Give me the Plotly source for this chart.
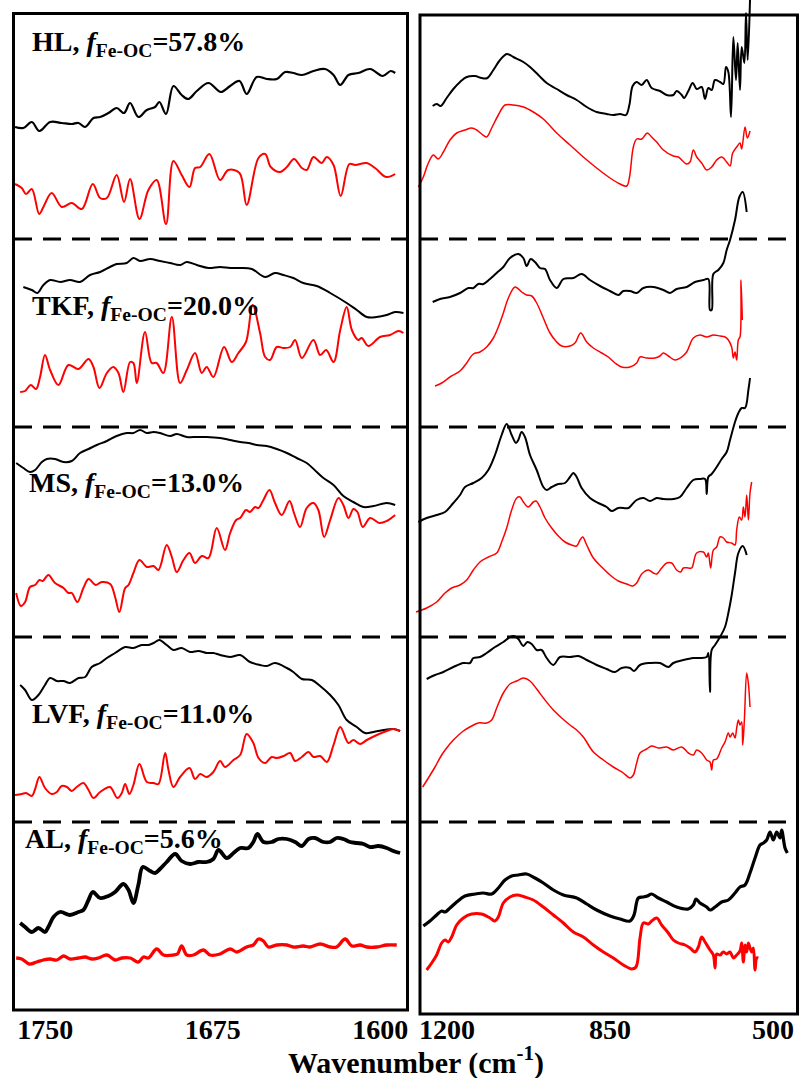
import plotly.graph_objects as go

# ---------------- data: (wavenumber cm-1, offset absorbance a.u.) ----------------
hl_left_black = [(1763.5,951),(1759.8,950),(1756.0,956),(1752.6,947),(1747.8,956),(1742.6,955),(1738.1,954),(1735.1,955),(1732.1,951),(1728.4,960),(1725.4,961),(1721.7,965),(1718.0,970),(1714.7,965),(1712.0,975),(1708.3,961),(1704.5,968),(1700.8,971),(1698.9,976),(1695.9,964),(1692.6,992),(1688.9,983),(1685.9,979),(1682.1,987),(1676.9,995),(1671.4,986),(1667.2,992),(1663.0,997),(1659.8,984),(1655.3,1001),(1650.8,999),(1646.3,999),(1642.6,1006),(1638.9,1005),(1635.1,1003),(1629.9,1007),(1624.7,1009),(1620.9,1003),(1617.9,993),(1614.2,1003),(1609.8,1005),(1604.5,1009),(1598.9,1002),(1595.3,1007),(1593.3,1005)]
hl_left_red = [(1763.5,894),(1760.5,890),(1758.6,884),(1756.0,889),(1752.7,864),(1750.8,871),(1747.1,885),(1742.6,871),(1738.1,875),(1733.6,869),(1728.7,894),(1725.4,880),(1722.4,880),(1718.0,903),(1714.7,876),(1712.0,899),(1707.8,859),(1703.8,888),(1700.1,898),(1695.9,854),(1692.6,917),(1688.9,903),(1685.4,891),(1682.9,910),(1680.6,911),(1676.5,924),(1671.7,898),(1668.0,908),(1663.0,905),(1659.8,873),(1654.5,920),(1651.5,924),(1649.0,911),(1644.8,906),(1641.8,911),(1638.6,919),(1635.1,910),(1632.9,908),(1629.9,921),(1626.2,915),(1623.9,921),(1620.9,913),(1617.7,882),(1613.8,914),(1611.2,913),(1606.0,915),(1602.3,910),(1597.4,901),(1593.3,904)]
hl_right_black = [(1230.8,972),(1222.2,974),(1213.6,972),(1200.8,980),(1186.4,989),(1172.1,996),(1157.8,1001),(1139.9,1002),(1125.6,1000),(1113.4,1000),(1100.5,1008),(1086.2,1018),(1071.9,1024),(1064.8,1023),(1057.6,1021),(1036.1,1016),(1021.8,1011),(1003.9,1003),(986.0,995),(964.5,989),(943.1,983),(921.6,978),(900.1,971),(878.7,966),(857.2,964),(842.9,963),(828.5,964),(815.7,963),(808.5,973),(801.4,992),(792.8,996),(782.0,993),(771.3,998),(760.6,990),(742.7,987),(728.3,983),(714.0,983),(706.9,987),(696.1,983),(691.1,980),(681.8,987),(672.5,995),(663.9,989),(653.2,991),(646.0,979),(638.9,990),(631.7,988),(624.5,998),(613.8,996),(606.6,994),(600.9,1011),(595.9,1006),(590.2,961),(585.2,1041),(579.5,998),(575.9,1035),(570.9,988),(567.3,1031),(561.5,1015),(558.0,1065),(554.4,1018),(549.4,1078)]
hl_right_red = [(1261.6,891),(1250.9,901),(1240.1,915),(1229.4,923),(1218.7,919),(1207.9,926),(1193.6,938),(1179.3,945),(1161.4,948),(1147.1,950),(1136.3,948),(1125.6,944),(1114.9,941),(1104.1,950),(1089.8,963),(1075.5,973),(1057.6,973),(1036.1,971),(1014.7,966),(993.2,959),(964.5,945),(935.9,933),(907.3,921),(878.7,910),(850.0,900),(828.5,894),(814.2,892),(808.5,900),(799.9,931),(792.8,939),(782.0,939),(769.9,945),(760.6,941),(749.8,936),(735.5,928),(714.0,922),(703.3,921),(685.4,914),(678.2,916),(671.1,928),(663.9,921),(653.2,915),(642.4,908),(631.7,911),(621.0,918),(610.2,921),(599.5,916),(592.3,912),(586.6,925),(578.0,931),(570.9,935),(567.3,929),(560.1,951),(555.1,940),(549.4,947)]

tkf_left_black = [(1759.8,791),(1756.0,788),(1753.5,785),(1750.8,793),(1747.8,798),(1743.3,796),(1738.9,798),(1734.4,796),(1729.9,803),(1725.4,806),(1721.0,811),(1718.0,814),(1713.5,815),(1710.5,820),(1707.5,817),(1703.0,819),(1698.6,817),(1694.1,815),(1689.6,813),(1686.6,816),(1682.1,813),(1676.9,810),(1671.7,811),(1667.2,810),(1662.7,810),(1657.5,809),(1651.5,801),(1647.1,805),(1643.3,803),(1638.9,800),(1634.4,795),(1628.4,792),(1622.4,785),(1615.0,775),(1610.5,768),(1606.0,761),(1601.6,761),(1597.1,763),(1593.3,766),(1589.6,765)]
tkf_left_red = [(1761.2,686),(1759.0,687),(1756.5,693),(1754.1,689),(1752.3,701),(1750.1,723),(1747.8,708),(1744.1,693),(1739.6,713),(1735.1,709),(1730.6,719),(1728.4,711),(1725.7,690),(1722.4,705),(1719.5,711),(1717.2,705),(1715.0,686),(1712.0,716),(1710.5,715),(1709.0,695),(1705.3,746),(1702.3,715),(1700.1,715),(1697.1,705),(1693.3,761),(1689.6,695),(1686.6,708),(1682.9,725),(1679.9,705),(1677.7,711),(1674.7,701),(1669.9,731),(1666.5,716),(1663.5,725),(1660.1,736),(1657.1,773),(1653.8,745),(1651.5,721),(1649.3,718),(1646.3,731),(1643.3,730),(1640.3,731),(1638.1,738),(1635.1,720),(1629.9,738),(1626.9,723),(1624.2,728),(1620.9,716),(1617.9,748),(1615.0,771),(1612.7,748),(1609.8,738),(1608.3,740),(1605.3,732),(1600.1,741),(1595.6,743),(1591.8,747),(1589.6,745)]
tkf_right_black = [(1230.8,776),(1215.1,779),(1193.6,781),(1172.1,785),(1154.2,790),(1143.5,790),(1132.8,794),(1122.0,794),(1107.7,799),(1093.4,805),(1079.1,811),(1064.8,820),(1046.9,824),(1036.1,820),(1029.0,812),(1020.4,819),(1011.1,816),(1000.3,810),(989.6,809),(978.9,798),(964.5,790),(950.2,799),(928.8,800),(910.9,804),(893.0,798),(871.5,792),(850.0,787),(832.1,783),(821.4,787),(807.1,787),(792.8,785),(778.4,790),(757.0,791),(735.5,788),(721.2,785),(706.9,789),(685.4,791),(667.5,796),(649.6,798),(638.9,799),(635.3,768),(631.7,768),(628.1,804),(617.4,808),(606.6,815),(599.5,828),(592.3,838),(581.6,858),(572.3,881),(565.1,886),(556.6,866)]
tkf_right_red = [(1225.8,692),(1211.5,695),(1193.6,701),(1172.1,707),(1157.8,715),(1143.5,724),(1129.2,726),(1114.9,731),(1100.5,740),(1089.8,751),(1079.1,765),(1068.3,780),(1054.0,791),(1039.7,786),(1029.0,783),(1018.2,782),(1007.5,775),(993.2,760),(978.9,745),(964.5,736),(953.8,732),(935.9,732),(925.2,735),(913.0,745),(900.1,736),(885.8,730),(867.9,725),(853.6,721),(839.3,715),(825.0,711),(807.1,711),(792.8,715),(785.6,721),(771.3,720),(753.4,720),(742.7,722),(735.5,725),(724.8,722),(710.4,718),(696.1,721),(685.4,726),(671.1,740),(656.8,743),(642.4,741),(628.1,743),(613.8,742),(603.1,741),(595.9,738),(588.8,731),(585.2,720),(581.6,726),(578.0,718),(574.5,738),(570.9,741),(568.7,798),(565.9,758)]

ms_left_black = [(1763.0,615),(1759.8,610),(1756.8,606),(1754.5,608),(1751.5,616),(1749.3,619),(1745.6,619),(1741.8,616),(1738.1,617),(1734.4,625),(1730.6,629),(1726.9,633),(1722.4,637),(1718.0,642),(1713.5,645),(1710.5,645),(1707.5,648),(1704.5,645),(1701.5,646),(1698.6,645),(1694.1,642),(1691.1,644),(1686.6,641),(1682.1,641),(1677.7,641),(1671.7,640),(1667.2,638),(1662.7,636),(1659.0,635),(1655.3,633),(1650.8,632),(1646.3,629),(1641.8,625),(1637.4,620),(1632.9,615),(1628.4,606),(1625.4,600),(1620.9,593),(1616.5,582),(1612.0,576),(1607.5,571),(1603.0,572),(1597.1,575),(1593.3,573)]
ms_left_red = [(1763.0,485),(1760.9,472),(1759.0,476),(1756.8,491),(1754.5,493),(1752.6,498),(1751.1,497),(1748.6,503),(1745.6,495),(1741.8,490),(1739.6,485),(1738.1,485),(1735.6,476),(1732.9,490),(1730.6,499),(1727.4,493),(1724.7,496),(1720.9,494),(1718.7,481),(1716.8,466),(1714.2,490),(1712.7,493),(1710.5,505),(1707.8,518),(1704.5,511),(1701.5,512),(1699.3,508),(1695.6,533),(1693.3,521),(1691.1,506),(1688.1,518),(1685.4,525),(1682.9,515),(1679.9,522),(1676.9,520),(1673.2,550),(1669.5,528),(1667.2,545),(1664.5,558),(1662.7,560),(1660.1,568),(1658.3,566),(1656.0,571),(1654.5,570),(1652.3,578),(1649.6,588),(1647.1,575),(1644.1,563),(1640.6,577),(1638.6,565),(1635.9,551),(1632.9,570),(1629.9,575),(1627.7,568),(1625.1,541),(1622.4,558),(1618.7,580),(1616.5,573),(1614.2,560),(1612.0,569),(1610.2,566),(1607.8,551),(1604.5,560),(1600.3,555),(1597.1,557),(1593.3,563)]
ms_right_black = [(1261.6,556),(1243.7,560),(1222.2,563),(1204.3,566),(1186.4,575),(1172.1,583),(1161.4,591),(1143.5,595),(1125.6,600),(1111.3,608),(1097.0,623),(1082.7,643),(1071.9,654),(1061.2,643),(1051.9,635),(1046.9,638),(1039.7,646),(1032.6,641),(1021.8,623),(1007.5,608),(993.2,591),(986.0,588),(975.3,591),(961.0,594),(946.7,595),(935.9,601),(928.8,605),(921.6,601),(910.9,590),(893.0,580),(875.1,575),(857.2,571),(846.4,567),(832.1,570),(810.6,570),(803.5,573),(792.8,578),(778.4,580),(764.1,577),(749.8,580),(735.5,579),(714.0,579),(699.7,581),(685.4,590),(671.1,598),(656.8,599),(646.0,599),(642.4,584),(638.9,601),(631.7,604),(621.0,611),(610.2,619),(599.5,626),(592.3,638),(581.6,656),(574.4,665),(567.3,670),(560.1,670),(552.9,688),(549.4,700)]
ms_right_red = [(1266.6,466),(1243.7,470),(1222.2,476),(1204.3,485),(1190.0,490),(1172.1,493),(1157.8,498),(1143.5,508),(1129.2,516),(1111.3,521),(1093.4,525),(1082.7,536),(1071.9,550),(1061.2,568),(1050.4,580),(1043.3,581),(1036.1,576),(1025.4,571),(1014.7,576),(1008.9,577),(1000.3,571),(989.6,560),(975.3,550),(961.0,542),(946.7,536),(932.4,533),(921.6,532),(914.4,538),(908.7,541),(900.1,533),(885.8,520),(867.9,511),(850.0,503),(832.1,497),(814.2,494),(801.4,492),(792.8,495),(782.0,504),(767.7,508),(757.0,505),(749.8,504),(739.1,510),(728.3,515),(717.6,515),(706.9,508),(698.3,506),(692.5,510),(681.8,510),(674.7,510),(663.9,525),(649.6,526),(642.4,521),(638.9,525),(633.9,510),(628.1,528),(621.0,531),(613.8,541),(606.6,540),(599.5,536),(588.8,535),(581.6,533),(578.0,548),(572.3,561),(567.3,558),(563.7,571),(560.1,561),(556.5,583),(552.9,558),(549.4,585),(545.8,596)]

lvf_left_black = [(1761.2,393),(1759.0,388),(1756.0,378),(1753.0,383),(1750.1,393),(1747.8,400),(1744.8,397),(1741.8,397),(1738.9,395),(1735.1,400),(1732.1,401),(1729.2,411),(1725.4,415),(1722.4,420),(1718.7,425),(1714.2,431),(1710.5,430),(1706.8,433),(1703.8,433),(1701.5,435),(1698.9,438),(1695.6,433),(1692.6,428),(1688.9,430),(1685.1,426),(1681.4,427),(1677.7,425),(1674.7,425),(1671.7,423),(1667.2,421),(1662.7,423),(1658.3,416),(1653.8,413),(1650.8,412),(1647.1,415),(1641.8,410),(1638.9,406),(1635.1,399),(1630.6,398),(1626.9,392),(1622.4,383),(1618.7,373),(1615.0,358),(1610.5,351),(1606.8,345),(1603.0,346),(1598.6,348),(1594.1,349),(1591.1,347)]
lvf_left_red = [(1763.5,283),(1760.5,284),(1758.6,285),(1756.0,282),(1754.5,289),(1752.6,301),(1750.1,290),(1747.1,284),(1744.8,286),(1742.6,292),(1740.3,291),(1738.1,287),(1735.9,291),(1732.9,295),(1730.6,288),(1728.4,280),(1725.4,286),(1721.0,291),(1717.7,280),(1715.7,285),(1714.2,294),(1712.3,284),(1710.5,293),(1707.8,314),(1704.5,296),(1701.5,295),(1699.3,294),(1696.3,325),(1694.8,308),(1692.6,291),(1689.6,301),(1685.4,310),(1682.9,299),(1680.6,304),(1677.7,301),(1674.7,306),(1671.7,317),(1669.5,311),(1665.7,318),(1662.7,323),(1659.8,344),(1656.8,335),(1654.5,320),(1651.5,315),(1648.6,321),(1646.3,320),(1643.3,322),(1640.3,325),(1638.1,317),(1635.1,321),(1632.1,326),(1629.9,321),(1626.9,322),(1623.9,316),(1620.9,333),(1617.9,351),(1614.2,335),(1612.0,338),(1609.0,334),(1606.0,338),(1601.5,343),(1597.1,347),(1594.1,349),(1591.1,347)]
lvf_right_black = [(1243.7,399),(1225.8,403),(1207.9,406),(1186.4,411),(1165.0,415),(1150.7,415),(1143.5,420),(1129.2,421),(1114.9,425),(1097.0,431),(1079.1,436),(1064.8,441),(1056.2,442),(1046.9,439),(1036.1,432),(1027.5,436),(1018.2,434),(1007.5,428),(996.8,428),(986.0,420),(971.7,413),(957.4,421),(935.9,421),(918.0,422),(900.1,418),(878.7,413),(857.2,409),(839.3,406),(825.0,410),(807.1,410),(798.5,407),(785.6,413),(764.1,415),(742.7,415),(724.8,411),(714.0,415),(692.5,418),(671.1,420),(656.8,420),(642.4,421),(638.9,425),(635.3,386),(631.7,428),(624.5,433),(613.8,441),(603.1,451),(595.9,465),(588.7,483),(581.6,505),(574.4,525),(565.1,532),(556.5,523)]
lvf_right_red = [(1252.3,291),(1240.1,300),(1225.8,311),(1211.5,323),(1200.8,330),(1186.4,338),(1165.0,347),(1147.1,352),(1132.8,355),(1114.9,355),(1104.1,358),(1093.4,370),(1079.1,385),(1064.8,394),(1050.4,397),(1036.1,400),(1021.8,397),(1007.5,389),(989.6,378),(971.7,368),(953.8,360),(935.9,353),(921.6,348),(907.3,341),(885.8,326),(864.3,318),(842.9,311),(821.4,305),(807.1,300),(799.9,303),(792.8,315),(785.6,325),(771.3,329),(760.6,332),(746.3,330),(728.3,331),(714.0,328),(696.1,331),(681.8,325),(671.1,323),(663.9,328),(653.2,325),(642.4,318),(635.3,316),(631.7,308),(628.1,318),(621.0,319),(610.2,330),(603.1,336),(595.9,345),(592.3,341),(586.6,345),(581.6,340),(578.0,350),(574.4,358),(570.9,353),(567.3,356),(565.1,333),(561.5,358),(556.5,405),(553.0,395),(549.4,371)]

al_left_black = [(1761.2,155),(1759.0,151),(1756.0,146),(1753.0,150),(1750.1,146),(1748.6,151),(1746.3,161),(1743.3,166),(1738.9,163),(1735.1,166),(1732.9,168),(1730.6,178),(1728.7,186),(1725.4,180),(1721.7,182),(1718.7,186),(1715.0,194),(1712.7,188),(1710.5,175),(1708.3,193),(1706.3,211),(1703.0,207),(1700.8,205),(1698.6,209),(1695.6,216),(1691.8,224),(1688.9,217),(1685.1,214),(1681.4,216),(1677.7,216),(1674.7,219),(1672.4,228),(1668.7,220),(1665.7,225),(1662.7,230),(1659.0,230),(1656.8,236),(1655.0,244),(1652.3,236),(1648.6,236),(1645.6,239),(1641.8,239),(1638.1,236),(1635.1,232),(1632.1,239),(1629.2,240),(1625.4,236),(1622.4,236),(1619.5,240),(1616.5,239),(1613.5,236),(1610.5,235),(1607.5,234),(1604.5,231),(1600.8,232),(1597.1,230),(1594.1,227),(1591.1,225)]
al_left_red = [(1763.0,120),(1760.5,119),(1757.1,114),(1753.8,116),(1750.8,118),(1747.8,119),(1744.8,118),(1741.8,122),(1738.9,119),(1735.1,120),(1732.1,121),(1729.2,119),(1726.2,120),(1722.4,123),(1718.7,118),(1715.7,120),(1712.0,120),(1708.3,116),(1706.0,121),(1703.8,120),(1700.1,129),(1697.1,123),(1692.6,123),(1690.8,124),(1688.9,132),(1686.6,123),(1683.6,123),(1679.2,128),(1676.2,123),(1671.7,124),(1667.2,129),(1664.2,126),(1659.8,131),(1656.8,133),(1654.5,139),(1652.3,137),(1650.1,131),(1646.3,133),(1641.8,133),(1638.9,131),(1634.4,132),(1631.4,131),(1626.9,134),(1622.4,131),(1619.5,131),(1615.7,139),(1612.7,132),(1609.0,133),(1606.0,131),(1601.5,131),(1597.1,133),(1592.6,133)]
al_right_black = [(1250.9,152),(1236.6,157),(1222.2,163),(1211.5,167),(1204.3,166),(1193.6,170),(1179.3,176),(1161.4,182),(1139.9,184),(1122.0,185),(1104.1,184),(1089.8,190),(1075.5,198),(1061.2,202),(1046.9,203),(1029.0,204),(1011.1,200),(993.2,195),(971.7,188),(950.2,183),(921.6,180),(900.1,174),(878.7,168),(850.0,162),(828.5,159),(807.1,157),(798.5,163),(789.2,180),(778.4,181),(769.9,182),(760.6,184),(746.2,180),(728.3,176),(706.9,171),(681.8,169),(671.1,173),(665.3,179),(656.8,175),(642.4,171),(635.3,168),(624.5,171),(610.2,176),(595.9,178),(581.6,185),(570.9,191),(560.1,193),(549.4,205),(538.6,220),(527.9,233),(520.7,235),(513.6,238),(506.4,246),(499.3,238),(492.1,246),(485.0,240),(481.4,248),(474.2,230),(469.2,225)]
al_right_red = [(1243.7,108),(1233.0,115),(1222.2,123),(1211.5,135),(1204.3,138),(1197.2,136),(1190.0,141),(1179.3,153),(1165.0,160),(1147.1,164),(1125.6,164),(1107.7,160),(1097.0,157),(1089.8,161),(1079.1,175),(1064.8,181),(1050.4,183),(1032.6,181),(1014.7,178),(993.2,171),(971.7,163),(950.2,155),(928.8,146),(907.3,141),(885.8,133),(864.3,126),(842.9,120),(821.4,113),(803.5,109),(794.2,111),(785.6,140),(778.4,155),(767.7,154),(760.6,157),(749.8,160),(739.1,153),(724.8,145),(714.0,138),(703.3,135),(689.0,133),(678.2,130),(667.5,126),(660.3,131),(653.2,141),(646.0,136),(635.3,128),(628.1,123),(624.5,110),(621.0,124),(613.8,123),(606.6,126),(599.5,124),(592.3,126),(585.2,120),(578.0,123),(570.9,127),(567.3,135),(563.7,116),(560.1,133),(556.5,126),(553.0,135),(549.4,130),(545.8,126),(542.2,130),(538.6,108),(535.0,120),(531.5,120)]

sample_names = ["HL", "TKF", "MS", "LVF", "AL"]
fe_oc_fraction = ["57.8", "20.0", "13.0", "11.0", "5.6"]
left_ticks = [1750, 1675, 1600]
right_ticks = [1200, 850, 500]

# ---------------- styling ----------------
W, H = 799, 1078
FONT = "Liberation Serif, Times New Roman, serif"

fig = go.Figure()

series = [
    (hl_left_black, "x", "y", "black", 2.2), (hl_left_red, "x", "y", "red", 2.0),
    (hl_right_black, "x2", "y2", "black", 2.0), (hl_right_red, "x2", "y2", "red", 1.5),
    (tkf_left_black, "x", "y", "black", 2.0), (tkf_left_red, "x", "y", "red", 2.0),
    (tkf_right_black, "x2", "y2", "black", 2.0), (tkf_right_red, "x2", "y2", "red", 1.5),
    (ms_left_black, "x", "y", "black", 2.0), (ms_left_red, "x", "y", "red", 2.0),
    (ms_right_black, "x2", "y2", "black", 2.0), (ms_right_red, "x2", "y2", "red", 1.5),
    (lvf_left_black, "x", "y", "black", 2.0), (lvf_left_red, "x", "y", "red", 2.0),
    (lvf_right_black, "x2", "y2", "black", 2.0), (lvf_right_red, "x2", "y2", "red", 1.5),
    (al_left_black, "x", "y", "black", 3.8), (al_left_red, "x", "y", "red", 3.3),
    (al_right_black, "x2", "y2", "black", 3.2), (al_right_red, "x2", "y2", "red", 3.0),
]
for pts, xa, ya, col, lw in series:
    xs = [p[0] for p in pts]
    ys = [p[1] for p in pts]
    fig.add_trace(go.Scatter(x=xs, y=ys, mode="lines", xaxis=xa, yaxis=ya,
                             line=dict(color=col, width=lw, shape="spline", smoothing=1.0),
                             hoverinfo="skip", showlegend=False))

split = 410 / W
tickfont = dict(family=FONT, size=28, color="black", weight="bold")
fig.update_layout(
    width=W, height=H, margin=dict(l=0, r=0, t=0, b=0),
    paper_bgcolor="white", plot_bgcolor="white", showlegend=False,
    xaxis=dict(domain=[0, split], range=[1770.24, 1586.66], tickvals=left_ticks,
               ticks="", showgrid=False, zeroline=False, showline=False,
               tickfont=tickfont, anchor="y"),
    yaxis=dict(domain=[68 / H, 1], range=[68, 1078], visible=False, anchor="x"),
    xaxis2=dict(domain=[split, 1], range=[1279.5, 444.2], tickvals=right_ticks,
                ticks="", showgrid=False, zeroline=False, showline=False,
                tickfont=tickfont, anchor="y2"),
    yaxis2=dict(domain=[68 / H, 1], range=[68, 1078], visible=False, anchor="x2"),
)

def px(x):
    return x / W

def py(y):
    return 1 - y / H

shapes = []
# dashed separators across both panels
for yy in [239, 427, 637, 822]:
    shapes.append(dict(type="line", xref="paper", yref="paper",
                       x0=px(14), x1=px(798), y0=py(yy), y1=py(yy),
                       line=dict(color="black", width=3, dash="18px,11px"), layer="below"))
# panel frames
shapes.append(dict(type="rect", xref="paper", yref="paper",
                   x0=px(13.5), x1=px(407.5), y0=py(1010), y1=py(13.5),
                   line=dict(color="black", width=3), fillcolor="rgba(0,0,0,0)", layer="above"))
shapes.append(dict(type="rect", xref="paper", yref="paper",
                   x0=px(420), x1=px(797.5), y0=py(1014), y1=py(15),
                   line=dict(color="black", width=3), fillcolor="rgba(0,0,0,0)", layer="above"))
fig.update_layout(shapes=shapes)

label_pos = [(30, 43.5), (30, 307), (27, 484.5), (30, 715), (23, 840.5)]
annotations = []
for name, frac, (lx, ly) in zip(sample_names, fe_oc_fraction, label_pos):
    annotations.append(dict(
        xref="paper", yref="paper", x=px(lx), y=py(ly), xanchor="left", yanchor="middle",
        showarrow=False,
        text=f"<b>{name}, <i>f</i><sub>Fe-OC</sub>={frac}%</b>",
        font=dict(family=FONT, size=28, color="black")))
annotations.append(dict(
    xref="paper", yref="paper", x=px(416), y=py(1060), xanchor="center", yanchor="middle",
    showarrow=False, text="<b>Wavenumber (cm<sup>-1</sup>)</b>",
    font=dict(family=FONT, size=30, color="black")))
fig.update_layout(annotations=annotations)

fig.write_html("out.html")
